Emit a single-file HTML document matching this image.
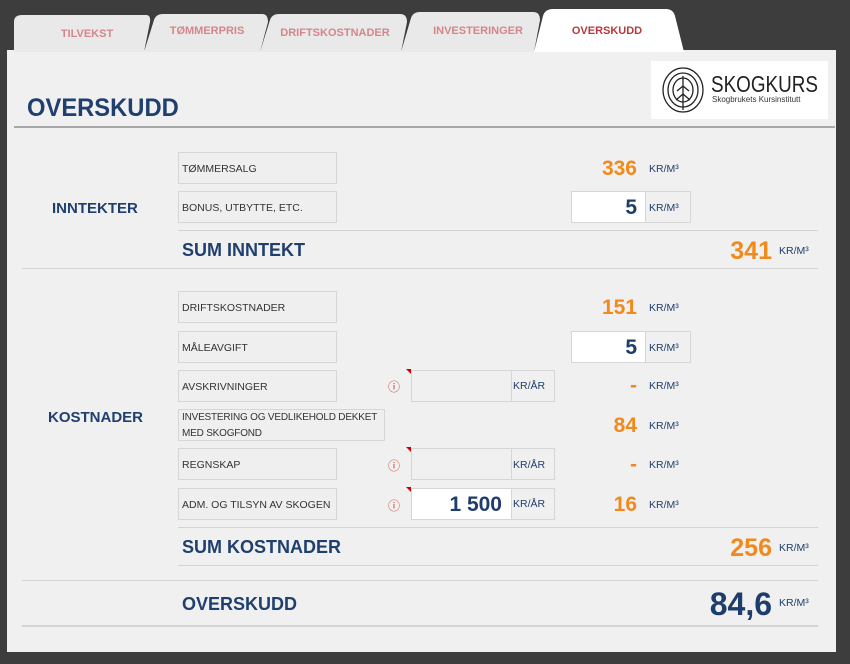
<!DOCTYPE html>
<html><head><meta charset="utf-8"><style>
*{margin:0;padding:0;box-sizing:border-box}
body{width:850px;height:664px;background:#3d3d3d;position:relative;overflow:hidden;font-family:"Liberation Sans",sans-serif}
.a{position:absolute}
.panel{left:7px;top:50px;width:829px;height:602px;background:#f0f0f0}
.hl{position:absolute;height:1px;background:#d4d4d4}
.lb{position:absolute;left:178px;width:159px;height:32px;border:1px solid #d6d6d6;background:#efefef;font-size:10.5px;color:#333;padding:0 0 0 3px;line-height:32px}
.num{position:absolute;color:#f08a1c;font-weight:bold;text-align:right;width:80px}
.u{position:absolute;font-size:10.5px;color:#1f3d6b}
.sec{position:absolute;color:#1f3f6e;font-weight:bold}
.box{position:absolute;border:1px solid #d6d6d6}
.i{position:absolute;color:#c0392b;font-size:12px;left:388px}
.tri{position:absolute;width:0;height:0;border-top:5px solid #c00;border-left:5px solid transparent}
</style></head><body>
<div class="a panel"></div>
<svg class="a" style="left:0;top:0" width="850" height="52">
<g fill="#e9e9e9">
<path d="M14 52 L14 22 Q14 15 22 15 L146 15 Q151 15 150 22 L144 52Z"/>
<path d="M144 52 L154 20 Q156 14 163 14 L262 14 Q268 14 268 22 L260 52Z"/>
<path d="M260 52 L270 20 Q272 14 279 14 L400 14 Q407 14 407 22 L401 52Z"/>
<path d="M401 52 L411 18 Q413 12 420 12 L533 12 Q540 12 540 20 L534 52Z"/>
</g>
<path d="M534 52 L543 16 Q545 9 553 9 L666 9 Q673 9 675 16 L684 52Z" fill="#fff"/>
<g font-family="Liberation Sans" font-weight="bold" font-size="11" fill="#d4868a" text-anchor="middle">
<text x="87" y="37">TILVEKST</text>
<text x="207" y="34">TØMMERPRIS</text>
<text x="335" y="36">DRIFTSKOSTNADER</text>
<text x="478" y="34">INVESTERINGER</text>
<text x="607" y="34" fill="#b43a3e">OVERSKUDD</text>
</g>
</svg>
<div class="a" style="left:651px;top:61px;width:177px;height:58px;background:#fff"></div>
<svg class="a" style="left:658px;top:66px" width="50" height="48"><g fill="none" stroke="#222" stroke-width="1.3"><ellipse cx="25" cy="24" rx="20" ry="22"/><ellipse cx="25" cy="24" rx="15" ry="17"/><ellipse cx="25" cy="24" rx="10" ry="12"/><path d="M25 10V44M25 20l-6 5M25 20l6 5M25 28l-7 6M25 28l7 6"/></g></svg>
<div class="a" style="left:711px;top:71px;font-size:23px;color:#222;transform:scaleX(0.82);transform-origin:left">SKOGKURS</div>
<div class="a" style="left:712px;top:95px;font-size:8px;color:#333">Skogbrukets Kursinstitutt</div>
<div class="sec" style="left:27px;top:94px;font-size:25px;transform:scaleX(0.95);transform-origin:left">OVERSKUDD</div>
<div class="hl" style="left:14px;top:126px;width:821px;height:2px;background:#a8a8a8"></div>

<div class="sec" style="left:52px;top:200px;font-size:15px">INNTEKTER</div>
<div class="lb" style="top:152px">TØMMERSALG</div>
<div class="num" style="left:557px;top:157px;font-size:21px">336</div><div class="u" style="left:649px;top:163px">KR/M³</div>
<div class="lb" style="top:191px">BONUS, UTBYTTE, ETC.</div>
<div class="box" style="left:571px;top:191px;width:75px;height:32px;background:#fff"></div>
<div class="box" style="left:645px;top:191px;width:46px;height:32px"></div>
<div class="num" style="left:557px;top:196px;font-size:21px;color:#1f3d6b">5</div><div class="u" style="left:649px;top:202px">KR/M³</div>
<div class="hl" style="left:178px;top:230px;width:640px"></div>
<div class="sec" style="left:182px;top:240px;font-size:18px">SUM INNTEKT</div>
<div class="num" style="left:692px;top:237px;font-size:25px">341</div><div class="u" style="left:779px;top:245px">KR/M³</div>
<div class="hl" style="left:22px;top:268px;width:796px"></div>

<div class="sec" style="left:48px;top:409px;font-size:15px">KOSTNADER</div>
<div class="lb" style="top:291px">DRIFTSKOSTNADER</div>
<div class="num" style="left:557px;top:296px;font-size:21px">151</div><div class="u" style="left:649px;top:302px">KR/M³</div>
<div class="lb" style="top:331px">MÅLEAVGIFT</div>
<div class="box" style="left:571px;top:331px;width:75px;height:32px;background:#fff"></div>
<div class="box" style="left:645px;top:331px;width:46px;height:32px"></div>
<div class="num" style="left:557px;top:336px;font-size:21px;color:#1f3d6b">5</div><div class="u" style="left:649px;top:342px">KR/M³</div>

<div class="lb" style="top:370px">AVSKRIVNINGER</div>
<div class="i" style="top:378px">ⓘ</div>
<div class="box" style="left:411px;top:370px;width:101px;height:32px"></div><div class="tri" style="left:406px;top:369px"></div>
<div class="box" style="left:511px;top:370px;width:44px;height:32px"></div><div class="u" style="left:513px;top:380px">KR/ÅR</div>
<div class="num" style="left:557px;top:374px;font-size:21px">-</div><div class="u" style="left:649px;top:380px">KR/M³</div>

<div class="lb" style="top:409px;width:207px;line-height:16px;font-size:10px;letter-spacing:-0.2px;white-space:nowrap">INVESTERING OG VEDLIKEHOLD DEKKET<br>MED SKOGFOND</div>
<div class="num" style="left:557px;top:414px;font-size:21px">84</div><div class="u" style="left:649px;top:420px">KR/M³</div>

<div class="lb" style="top:448px">REGNSKAP</div>
<div class="i" style="top:457px">ⓘ</div>
<div class="box" style="left:411px;top:448px;width:101px;height:32px"></div><div class="tri" style="left:406px;top:447px"></div>
<div class="box" style="left:511px;top:448px;width:44px;height:32px"></div><div class="u" style="left:513px;top:459px">KR/ÅR</div>
<div class="num" style="left:557px;top:453px;font-size:21px">-</div><div class="u" style="left:649px;top:459px">KR/M³</div>

<div class="lb" style="top:488px">ADM. OG TILSYN AV SKOGEN</div>
<div class="i" style="top:497px">ⓘ</div>
<div class="box" style="left:411px;top:488px;width:101px;height:32px;background:#fff"></div><div class="tri" style="left:406px;top:487px"></div>
<div class="box" style="left:511px;top:488px;width:44px;height:32px"></div><div class="u" style="left:513px;top:498px">KR/ÅR</div>
<div class="num" style="left:402px;top:493px;font-size:21px;width:100px;color:#1f3d6b">1 500</div>
<div class="num" style="left:557px;top:493px;font-size:21px">16</div><div class="u" style="left:649px;top:499px">KR/M³</div>
<div class="hl" style="left:178px;top:527px;width:640px"></div>
<div class="sec" style="left:182px;top:537px;font-size:18px">SUM KOSTNADER</div>
<div class="num" style="left:692px;top:534px;font-size:25px">256</div><div class="u" style="left:779px;top:542px">KR/M³</div>
<div class="hl" style="left:178px;top:565px;width:640px"></div>
<div class="hl" style="left:22px;top:580px;width:796px"></div>
<div class="sec" style="left:182px;top:594px;font-size:18px">OVERSKUDD</div>
<div class="num" style="left:672px;top:586px;font-size:32px;color:#1f3d6b;width:100px">84,6</div><div class="u" style="left:779px;top:597px">KR/M³</div>
<div class="hl" style="left:22px;top:625px;width:796px;height:2px"></div>
</body></html>
